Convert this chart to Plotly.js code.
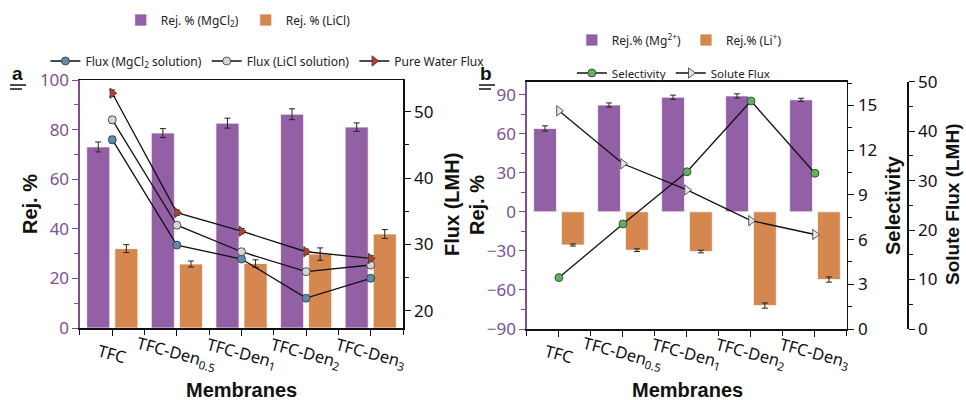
<!DOCTYPE html>
<html><head><meta charset="utf-8">
<script src="https://cdn.plot.ly/plotly-3.0.1.min.js"></script>
<style>html,body{margin:0;padding:0;background:#fff}#chart{width:966px;height:400px}</style>
</head><body><div id="chart"></div>
<script>
// ---------- data ----------
const categories = ['TFC', 'TFC-Den<sub>0.5</sub>', 'TFC-Den<sub>1</sub>', 'TFC-Den<sub>2</sub>', 'TFC-Den<sub>3</sub>'];

// panel a
const rejMgCl2 = [73, 78.6, 82.6, 86.2, 81];
const rejMgCl2Err = [2, 1.8, 2, 2.2, 1.7];
const rejLiCl = [32, 25.8, 26, 29.8, 37.9];
const rejLiClErr = [1.6, 1.2, 1.5, 2.5, 1.8];
const fluxMgCl2 = [45.8, 29.9, 27.8, 21.9, 24.9];
const fluxLiCl = [48.8, 32.9, 28.9, 25.9, 26.9];
const fluxPure = [52.8, 34.8, 32.0, 28.9, 27.9];
const fluxErr = [0.5, 0.4, 0.4, 0.4, 0.4];

// panel b
const rejMg = [64, 82, 88, 89, 86];
const rejMgErr = [2, 1.6, 1.6, 1.6, 1.2];
const rejLi = [-25.5, -29.5, -30.5, -72, -52];
const rejLiErr = [0.8, 1, 1, 2, 2];
const selectivity = [3.45, 7.05, 10.55, 15.3, 10.45];
const soluteFlux = [44.1, 33.4, 28.1, 21.9, 19.1];

// ---------- styles ----------
const purple = '#9360a6', orange = '#d4884f', axPurple = '#7d5190';
const idx = categories.map((_, i) => i);
const tickFont = {family: 'Noto Sans, Open Sans, sans-serif', size: 17};
const titleFont = {family: 'Liberation Sans, Arial, sans-serif', size: 20, color: '#111'};
const barLine = {color: 'rgba(255,255,255,0.7)', width: 1};
const eb = (arr) => ({type: 'data', array: arr, visible: true, color: '#222', thickness: 1, width: 3});

const traces = [
  {type: 'bar', x: idx, y: rejMgCl2, name: 'Rej. % (MgCl<sub>2</sub>)', marker: {color: purple, line: barLine},
   error_y: eb(rejMgCl2Err), xaxis: 'x', yaxis: 'y', legend: 'legend'},
  {type: 'bar', x: idx, y: rejLiCl, name: 'Rej. % (LiCl)', marker: {color: orange, line: barLine},
   error_y: eb(rejLiClErr), xaxis: 'x', yaxis: 'y', legend: 'legend'},
  {type: 'scatter', mode: 'lines+markers', x: idx, y: fluxMgCl2, name: 'Flux (MgCl<sub>2</sub> solution)',
   line: {color: '#111', width: 1.3}, marker: {symbol: 'circle', size: 8, color: '#5b8db3', line: {color: '#333', width: 0.8}},
   error_y: eb(fluxErr), xaxis: 'x', yaxis: 'y2', legend: 'legend2'},
  {type: 'scatter', mode: 'lines+markers', x: idx, y: fluxLiCl, name: 'Flux (LiCl solution)',
   line: {color: '#111', width: 1.3}, marker: {symbol: 'circle', size: 8, color: '#d9d6d2', line: {color: '#333', width: 0.8}},
   error_y: eb(fluxErr), xaxis: 'x', yaxis: 'y2', legend: 'legend2'},
  {type: 'scatter', mode: 'lines+markers', x: idx, y: fluxPure, name: 'Pure Water Flux',
   line: {color: '#111', width: 1.3}, marker: {symbol: 'triangle-right', size: 9, color: '#b4432a', line: {color: '#333', width: 0.8}},
   error_y: eb(fluxErr), xaxis: 'x', yaxis: 'y2', legend: 'legend2'},

  {type: 'bar', x: idx, y: rejMg, name: 'Rej.% (Mg<sup>2+</sup>)', marker: {color: purple, line: barLine},
   error_y: eb(rejMgErr), xaxis: 'x2', yaxis: 'y3', legend: 'legend3'},
  {type: 'bar', x: idx, y: rejLi, name: 'Rej.% (Li<sup>+</sup>)', marker: {color: orange, line: barLine},
   error_y: eb(rejLiErr), xaxis: 'x2', yaxis: 'y3', legend: 'legend3'},
  {type: 'scatter', mode: 'lines+markers', x: idx, y: selectivity, name: 'Selectivity',
   line: {color: '#111', width: 1.3}, marker: {symbol: 'circle', size: 8, color: '#5db35c', line: {color: '#333', width: 0.8}},
   xaxis: 'x2', yaxis: 'y4', legend: 'legend4'},
  {type: 'scatter', mode: 'lines+markers', x: idx, y: soluteFlux, name: 'Solute Flux',
   line: {color: '#111', width: 1.3}, marker: {symbol: 'triangle-right', size: 9, color: '#e4e4e0', line: {color: '#333', width: 0.8}},
   xaxis: 'x2', yaxis: 'y5', legend: 'legend4'}
];

const xCommon = {
  range: [-0.5, 4.5], tickmode: 'array', tickvals: idx, ticktext: categories, showticklabels: false,
  ticks: 'outside', ticklen: 6, tickcolor: '#111',
  minor: {dtick: 0.5, tick0: 0.5, ticks: 'outside', ticklen: 5, tickcolor: '#111'},
  showline: true, linecolor: '#111', linewidth: 1.5, mirror: true, showgrid: false, zeroline: false
};
const yLeft = {
  tickfont: {...tickFont, color: axPurple}, ticks: 'outside', ticklen: 6, tickcolor: axPurple,
  showline: true, linecolor: axPurple, linewidth: 1.5, showgrid: false, zeroline: false,
  minor: {ticks: 'outside', ticklen: 4, tickcolor: axPurple}
};
const yRight = {
  tickfont: {...tickFont, color: '#111'}, ticks: 'outside', ticklen: 6, tickcolor: '#111',
  showline: true, linecolor: '#111', linewidth: 1.5, showgrid: false, zeroline: false,
  minor: {ticks: 'outside', ticklen: 4, tickcolor: '#111'}
};

// category labels (rotated, centred under each category) and axis titles
const catLabel = (xref) => categories.map((c, i) => ({
  text: c, xref: xref, x: i, yref: 'paper', y: 1 - 353 / 400, xanchor: 'center', yanchor: 'middle',
  textangle: 15, showarrow: false, font: {...tickFont, size: 16.5, color: '#111'}
}));
const title = (text, px, py, angle, size) => ({
  text: '<b>' + text + '</b>', xref: 'paper', yref: 'paper', x: px / 966, y: 1 - py / 400,
  xanchor: 'center', yanchor: 'middle', textangle: angle, showarrow: false,
  font: {...titleFont, size: size || titleFont.size}
});
const panelLabel = (text, px, py) => ({
  text: '<b>' + text + '</b>', xref: 'paper', yref: 'paper', x: px / 966, y: 1 - py / 400,
  xanchor: 'center', yanchor: 'middle', showarrow: false,
  font: {family: 'Liberation Sans, Arial, sans-serif', size: 19, color: '#111'}
});

const legFont = {family: 'Noto Sans, Open Sans, sans-serif', size: 12, color: '#222'};
const layout = {
  width: 966, height: 400, margin: {l: 0, r: 0, t: 0, b: 0},
  paper_bgcolor: '#fff', plot_bgcolor: '#fff',
  barmode: 'group', bargap: 0.13, bargroupgap: 0.18,
  xaxis: {...xCommon, domain: [0.0828, 0.4172], anchor: 'y'},
  yaxis: {...yLeft, domain: [0.18, 0.8], range: [0, 100], dtick: 20, minor: {...yLeft.minor, dtick: 10}, anchor: 'x'},
  yaxis2: {...yRight, overlaying: 'y', side: 'right', anchor: 'x', range: [17.4, 54.8],
           tickvals: [20, 30, 40, 50], minor: {...yRight.minor, tickvals: [25, 35, 45]}},
  xaxis2: {...xCommon, domain: [0.5455, 0.8768], anchor: 'y3'},
  yaxis3: {...yLeft, domain: [0.1775, 0.796], range: [-90, 100], tickvals: [-90, -60, -30, 0, 30, 60, 90],
           minor: {...yLeft.minor, tickvals: [-75, -45, -15, 15, 45, 75]}, anchor: 'x2'},
  yaxis4: {...yRight, overlaying: 'y3', side: 'right', anchor: 'x2', range: [0, 16.6], dtick: 3,
           minor: {...yRight.minor, dtick: 1.5}},
  yaxis5: {...yRight, overlaying: 'y3', side: 'right', anchor: 'free', position: 0.939, range: [0, 50], dtick: 10,
           minor: {...yRight.minor, dtick: 5}},
  legend: {orientation: 'h', x: 0.125, y: 0.95, xanchor: 'left', yanchor: 'middle', font: legFont,
           bgcolor: 'rgba(0,0,0,0)', traceorder: 'normal', entrywidth: 80},
  legend2: {orientation: 'h', x: 0.047, y: 0.8475, xanchor: 'left', yanchor: 'middle', font: legFont,
            bgcolor: 'rgba(0,0,0,0)', traceorder: 'normal', itemwidth: 30},
  legend3: {orientation: 'h', x: 0.592, y: 0.9, xanchor: 'left', yanchor: 'middle', font: legFont,
            bgcolor: 'rgba(0,0,0,0)', traceorder: 'normal'},
  legend4: {orientation: 'h', x: 0.592, y: 0.8175, xanchor: 'left', yanchor: 'middle', font: {...legFont, size: 11.5},
            bgcolor: 'rgba(0,0,0,0)', traceorder: 'normal', itemwidth: 30},
  annotations: [
    ...catLabel('x'), ...catLabel('x2'),
    title('Membranes', 241, 390, 0),
    title('Membranes', 687, 390, 0),
    title('Rej. %', 30, 204, -90),
    title('Flux (LMH)', 452, 205, -90),
    title('Rej. %', 477, 205, -90),
    title('Selectivity', 893, 205, -90),
    title('Solute Flux (LMH)', 953, 205, -90, 19),
    panelLabel('a', 17, 73),
    panelLabel('b', 486, 73)
  ],
  shapes: [
    {type: 'line', xref: 'paper', yref: 'paper', x0: 10 / 966, x1: 26 / 966, y0: 1 - 85 / 400, y1: 1 - 85 / 400, line: {color: '#111', width: 1.5}},
    {type: 'line', xref: 'paper', yref: 'paper', x0: 10 / 966, x1: 22 / 966, y0: 1 - 89 / 400, y1: 1 - 89 / 400, line: {color: '#111', width: 1.5}},
    {type: 'line', xref: 'paper', yref: 'paper', x0: 479 / 966, x1: 495 / 966, y0: 1 - 85 / 400, y1: 1 - 85 / 400, line: {color: '#111', width: 1.5}},
    {type: 'line', xref: 'paper', yref: 'paper', x0: 479 / 966, x1: 491 / 966, y0: 1 - 89 / 400, y1: 1 - 89 / 400, line: {color: '#111', width: 1.5}}
  ]
};

Plotly.newPlot('chart', traces, layout, {displayModeBar: false, staticPlot: true});
</script></body></html>
